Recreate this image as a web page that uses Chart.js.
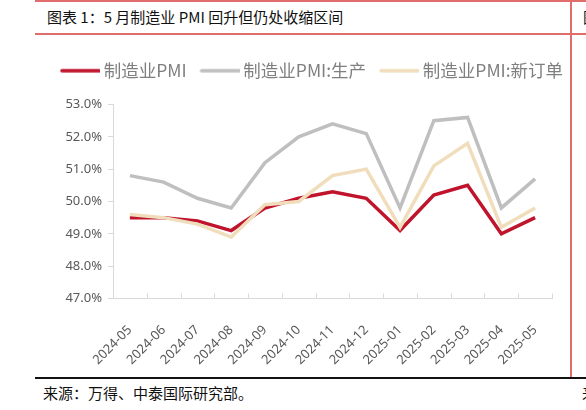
<!DOCTYPE html>
<html>
<head>
<meta charset="utf-8">
<script src="https://cdn.jsdelivr.net/npm/chart.js@4/dist/chart.umd.min.js"></script>
<style>
  html, body { margin: 0; padding: 0; background: #fff; }
  body { width: 586px; height: 410px; position: relative; overflow: hidden; font-family: "Noto Sans CJK SC", sans-serif; }
  .rule { position: absolute; z-index: 2; }
  .txt { position: absolute; white-space: nowrap; line-height: 1; }
  #wrap { position: absolute; left: 35px; top: 38px; width: 551px; height: 346px; }
</style>
</head>
<body>
<div class="rule" style="left:35px;top:0;width:551px;height:2px;background:#e06c6c"></div>
<div class="rule" style="left:35px;top:33px;width:551px;height:2px;background:#e06c6c"></div>
<div class="rule" style="left:570px;top:0;width:2px;height:378px;background:#e06c6c"></div>
<div class="rule" style="left:35px;top:377px;width:551px;height:2px;background:#111"></div>
<div class="txt" style="left:47px;top:9px;font-size:15px;color:#111">图表 1：5 月制造业 PMI 回升但仍处收缩区间</div>
<div class="txt" style="left:583px;top:9px;font-size:15px;color:#111">图</div>
<div class="txt" style="left:43px;top:385px;font-size:15px;color:#111">来源：万得、中泰国际研究部。</div>
<div class="txt" style="left:582px;top:385px;font-size:15px;color:#111">来</div>
<div id="wrap"><canvas id="myChart"></canvas></div>
<script>
// months on the x axis
const months = ["2024-05", "2024-06", "2024-07", "2024-08", "2024-09", "2024-10", "2024-11",
                "2024-12", "2025-01", "2025-02", "2025-03", "2025-04", "2025-05"]

// series, in %
const pmi        = [49.5, 49.5, 49.4, 49.1, 49.8, 50.1, 50.3, 50.1, 49.1, 50.2, 50.5, 49.0, 49.5]
const production = [50.8, 50.6, 50.1, 49.8, 51.2, 52.0, 52.4, 52.1, 49.8, 52.5, 52.6, 49.8, 50.7]
const newOrders  = [49.6, 49.5, 49.3, 48.9, 49.9, 50.0, 50.8, 51.0, 49.2, 51.1, 51.8, 49.2, 49.8]

const seriesNames = ["制造业PMI", "制造业PMI:生产", "制造业PMI:新订单"]
const seriesColors = ["#c0142d", "#bfbfbf", "#f0ddbb"]

// y axis range
const yMin = 47
const yMax = 53
const yStep = 1

const axisColor = "#d9d9d9"

// legend swatch: a 40px line sitting a bit right of the box so the text is close to it
function swatch(color) {
    var c = document.createElement("canvas")
    c.width = 50
    c.height = 6
    var g = c.getContext("2d")
    g.strokeStyle = color
    g.lineWidth = 3.5
    g.lineCap = "round"
    g.beginPath()
    g.moveTo(12, 3)
    g.lineTo(49, 3)
    g.stroke()
    return c
}

// small inward tick marks on the x axis, between the categories
const innerTicks = {
    id: "innerTicks",
    afterDraw(chart) {
        const xs = chart.scales.x
        const c = chart.ctx
        c.save()
        c.strokeStyle = axisColor
        c.lineWidth = 1
        c.beginPath()
        for (var i = 0; i <= months.length; i++) {
            var px = Math.round(xs.getPixelForValue(i - 0.5)) + 0.5
            c.moveTo(px, xs.top)
            c.lineTo(px, xs.top - 5)
        }
        c.stroke()
        c.restore()
    }
}

// one legend row wider than the plot, extra room under it, centred where the original has it
const legendCenter = 274
const legendHalf = 270
const legendGap = {
    id: "legendGap",
    beforeInit(chart) {
        const fit = chart.legend.fit
        chart.legend.fit = function () {
            this.maxWidth = 2 * legendHalf
            fit.bind(chart.legend)()
            this.height += 15
        }
    },
    afterLayout(chart) {
        const lg = chart.legend
        lg.left = legendCenter - legendHalf
        lg.right = legendCenter + legendHalf
        lg.width = 2 * legendHalf
    }
}

const ctx = document.getElementById("myChart")

new Chart(ctx, {
    type: "line",
    data: {
        labels: months,
        datasets: [{
            label: seriesNames[0],
            data: pmi,
            borderColor: seriesColors[0],
            backgroundColor: seriesColors[0],
            pointStyle: swatch(seriesColors[0]),
            order: 2
        }, {
            label: seriesNames[1],
            data: production,
            borderColor: seriesColors[1],
            backgroundColor: seriesColors[1],
            pointStyle: swatch(seriesColors[1]),
            order: 1
        }, {
            label: seriesNames[2],
            data: newOrders,
            borderColor: seriesColors[2],
            backgroundColor: seriesColors[2],
            pointStyle: swatch(seriesColors[2]),
            order: 0
        }]
    },
    options: {
        responsive: true,
        maintainAspectRatio: false,
        animation: false,
        layout: { padding: { left: 0, right: 34, top: 16, bottom: 0 } },
        elements: {
            line: { borderWidth: 3.5, tension: 0, borderCapStyle: "butt", borderJoinStyle: "miter" },
            point: { radius: 0, hoverRadius: 0 }
        },
        plugins: {
            tooltip: { enabled: false },
            legend: {
                position: "top",
                labels: {
                    usePointStyle: true,
                    pointStyleWidth: 40,
                    color: "#7f7f7f",
                    padding: 8,
                    font: { family: "'Noto Sans CJK SC', sans-serif", size: 17.5 },
                    sort: (a, b) => a.datasetIndex - b.datasetIndex
                }
            }
        },
        scales: {
            x: {
                offset: true,
                grid: { display: false, offset: true },
                border: { color: axisColor },
                ticks: {
                    minRotation: 45,
                    maxRotation: 45,
                    color: "#595959",
                    padding: 16,
                    font: { family: "'Noto Sans', sans-serif", size: 13 }
                }
            },
            y: {
                min: yMin,
                max: yMax,
                afterFit: scale => { scale.width = 78 },
                grid: { drawOnChartArea: false, tickLength: 5, color: axisColor },
                border: { color: axisColor },
                ticks: {
                    stepSize: yStep,
                    color: "#595959",
                    padding: 6,
                    font: { family: "'Noto Sans', sans-serif", size: 13 },
                    callback: v => v.toFixed(1) + "%"
                }
            }
        }
    },
    plugins: [innerTicks, legendGap]
})
</script>
</body>
</html>
